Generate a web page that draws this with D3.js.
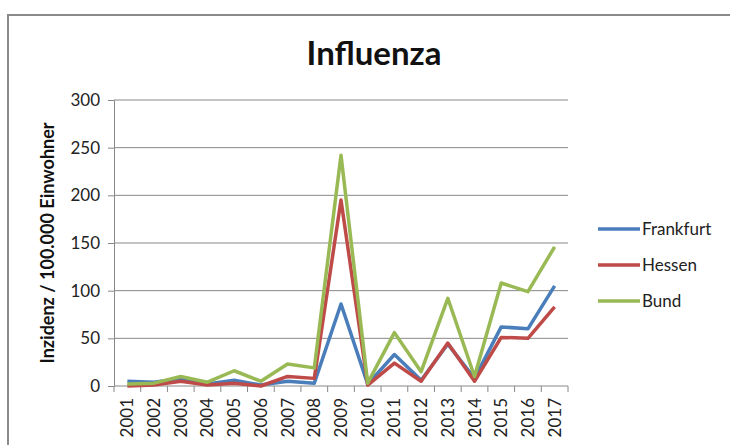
<!DOCTYPE html>
<html><head>
<meta charset="utf-8">
<title>Influenza</title>
<script src="https://cdn.jsdelivr.net/npm/d3@7"></script>
<style>
  body { margin: 0; background: #fff; }
  svg { display: block; font-family: Lato, "Open Sans", sans-serif; }
</style>
</head>
<body>
<svg width="730" height="445"></svg>

<script>
// data
const years = ["2001","2002","2003","2004","2005","2006","2007","2008","2009",
               "2010","2011","2012","2013","2014","2015","2016","2017"];
const frankfurt = [5, 4, 8, 2, 6, 1, 5, 3, 86, 2, 33, 6, 44, 8, 62, 60, 105];
const hessen    = [0, 1, 5, 1, 3, 0, 10, 8, 195, 1, 24, 5, 45, 5, 51, 50, 83];
const bund      = [2, 3, 10, 4, 16, 5, 23, 19, 242, 3, 56, 15, 92, 10, 108, 99, 146];
const yTicks = [0, 50, 100, 150, 200, 250, 300];

const series = [
  {name: "Frankfurt", values: frankfurt, color: "#4a7ebb"},
  {name: "Hessen",    values: hessen,    color: "#be4b48"},
  {name: "Bund",      values: bund,      color: "#98b954"}
];

let svg = d3.select("svg");

// outer chart frame
svg.append("rect")
  .attr("x", 8).attr("y", 15)
  .attr("width", 740).attr("height", 450)
  .attr("fill", "none")
  .attr("stroke", "#8a8a8a")
  .attr("stroke-width", 2);

let plotL = 114, plotR = 568, plotT = 100, plotB = 386;

let x = d3.scaleBand().domain(years).range([plotL, plotR]);
let y = d3.scaleLinear().domain([0, 300]).range([plotB, plotT]);

// gridlines
svg.append("g")
  .selectAll("line")
  .data(yTicks.filter(d => d > 0))
  .join("line")
  .attr("x1", plotL).attr("x2", plotR)
  .attr("y1", d => y(d)).attr("y2", d => y(d))
  .attr("stroke", "#888").attr("stroke-width", 1);

// y axis
let yAxis = svg.append("g")
  .attr("transform", `translate(${plotL},0)`)
  .call(d3.axisLeft(y).tickValues(yTicks).tickSize(6).tickPadding(8));
yAxis.select(".domain").attr("stroke", "#888");
yAxis.selectAll(".tick line").attr("stroke", "#888");
yAxis.selectAll("text")
  .attr("font-size", 17).attr("fill", "#222")
  .attr("font-family", "Lato, sans-serif");

// x axis: tick marks between categories
let xAxis = svg.append("g")
  .attr("transform", `translate(0,${plotB})`);
xAxis.append("line")
  .attr("x1", plotL).attr("x2", plotR)
  .attr("stroke", "#888");
xAxis.selectAll("line.tk")
  .data(d3.range(years.length + 1))
  .join("line")
  .attr("class", "tk")
  .attr("x1", i => plotL + i * x.step()).attr("x2", i => plotL + i * x.step())
  .attr("y1", 0).attr("y2", 6)
  .attr("stroke", "#888");
xAxis.selectAll("text")
  .data(years)
  .join("text")
  .attr("transform", d => `translate(${x(d) + x.bandwidth() / 2 + 6},12) rotate(-90)`)
  .attr("text-anchor", "end")
  .attr("font-size", 17)
  .attr("fill", "#222")
  .text(d => d);

// lines
let line = d3.line()
  .x((d, i) => x(years[i]) + x.bandwidth() / 2)
  .y(d => y(d));

svg.append("g")
  .selectAll("path")
  .data(series)
  .join("path")
  .attr("d", d => line(d.values))
  .attr("fill", "none")
  .attr("stroke", d => d.color)
  .attr("stroke-width", 3.5)
  .attr("stroke-linejoin", "round");

// title
svg.append("text")
  .attr("x", 374).attr("y", 65)
  .attr("text-anchor", "middle")
  .attr("font-size", 33)
  .attr("font-weight", "bold")
  .attr("fill", "#111")
  .text("Influenza");

// y axis title
svg.append("text")
  .attr("transform", "translate(54,243) rotate(-90)")
  .attr("text-anchor", "middle")
  .attr("font-size", 18)
  .attr("font-weight", "bold")
  .attr("fill", "#111")
  .text("Inzidenz / 100.000 Einwohner");

// legend
let legend = svg.append("g")
  .selectAll("g")
  .data(series)
  .join("g")
  .attr("transform", (d, i) => `translate(598,${229 + i * 36})`);
legend.append("line")
  .attr("x1", 0).attr("x2", 42)
  .attr("stroke", d => d.color)
  .attr("stroke-width", 3.5);
legend.append("text")
  .attr("x", 44).attr("y", 6)
  .attr("font-size", 17)
  .attr("fill", "#222")
  .text(d => d.name);
</script>
</body>
</html>
